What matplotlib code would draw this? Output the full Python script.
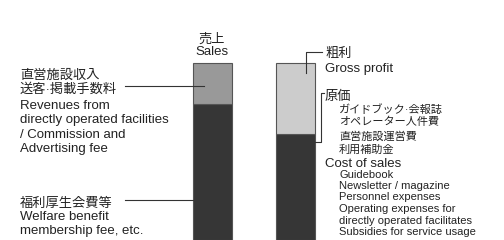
import matplotlib.pyplot as plt
from matplotlib.lines import Line2D

W, H = 504, 240

# bar values, bottom segment first
sales_parts = [77, 23]   # 福利厚生会費等 / 直営施設収入・送客・掲載手数料
cost_parts = [60, 40]    # 原価 / 粗利
bar_title_jp = "売上"
bar_title_en = "Sales"

revenue_label = ["直営施設収入", "送客·掲載手数料"]
revenue_label_en = ["Revenues from", "directly operated facilities",
                    "/ Commission and", "Advertising fee"]
welfare_label = ["福利厚生会費等"]
welfare_label_en = ["Welfare benefit", "membership fee, etc."]
profit_label = ["粗利", "Gross profit"]
cost_head = "原価"
cost_items = ["ガイドブック·会報誌", "オペレーター人件費", "直営施設運営費", "利用補助金"]
cost_head_en = "Cost of sales"
cost_items_en = ["Guidebook", "Newsletter / magazine", "Personnel expenses",
                 "Operating expenses for", "directly operated facilitates",
                 "Subsidies for service usage"]

DARK = "#363636"
MID = "#999999"
LIGHT = "#cccccc"
TXT = "#222222"
# Latin first so the middle dot stays narrow, kanji fall through to Noto CJK
JP = ["Liberation Sans", "Noto Sans CJK JP"]
EN = ["Liberation Sans", "Noto Sans CJK JP"]


def fx(x):
    return x / W


def fy(y):
    return 1 - y / H


def put(x, y, s, size, fam, ha="left"):
    fig.text(fx(x), fy(y), s, fontsize=size, family=fam, color=TXT,
             ha=ha, va="baseline")


def leader(xs, ys):
    fig.add_artist(Line2D([fx(v) for v in xs], [fy(v) for v in ys],
                          transform=fig.transFigure, color="#333333", lw=0.8))


fig = plt.figure(figsize=(W / 100, H / 100), dpi=100)
ax = fig.add_axes([0, 0, 1, 1])
ax.set_xlim(-2.547, 3.503)
ax.set_ylim(0, 135.4)
ax.axis("off")

width = 0.468
for i, (vals, cols) in enumerate([(sales_parts, [DARK, MID]),
                                  (cost_parts, [DARK, LIGHT])]):
    bottom = 0
    for v, c in zip(vals, cols):
        ax.bar(i, v, width, bottom=bottom, color=c, edgecolor="#555555",
               linewidth=0.8)
        bottom += v

# title over the sales bar
put(212, 42.5, bar_title_jp, 9.5, JP, ha="center")
put(212, 55, bar_title_en, 9.5, EN, ha="center")

# left labels
for s, y in zip(revenue_label, [78.5, 93]):
    put(20, y, s, 9.5, JP)
for s, y in zip(revenue_label_en, [109, 123.3, 137.6, 152]):
    put(20, y, s, 9.5, EN)
put(20, 206.5, welfare_label[0], 9.5, JP)
for s, y in zip(welfare_label_en, [220, 234]):
    put(20, y, s, 9.5, EN)

leader([125, 204], [86, 86])
leader([125, 193], [200, 200])

# right labels
put(325, 57.5, profit_label[0], 9.5, JP)
put(325, 72, profit_label[1], 9.5, EN)
put(325, 100, cost_head, 9.5, JP)
for s, y in zip(cost_items, [112.5, 125.5, 139.5, 152.5]):
    put(339, y, s, 8, JP)
put(325, 167, cost_head_en, 9.5, EN)
for s, y in zip(cost_items_en, [177.5, 189, 200.5, 212, 223.5, 235]):
    put(339, y, s, 8, EN)

leader([321.5, 305.7, 305.7], [51.7, 51.7, 72.7])
leader([324, 320.7, 320.7, 315], [93.3, 93.3, 141.7, 141.7])

fig.savefig("out.png", dpi=100)
